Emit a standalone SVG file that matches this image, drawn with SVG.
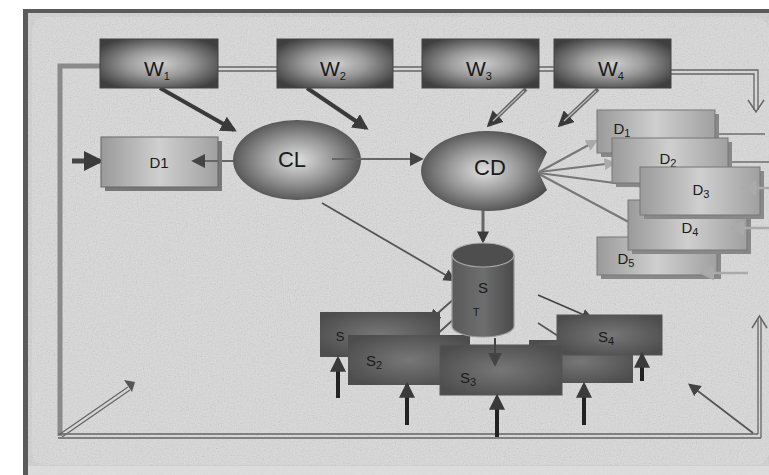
<svg xmlns="http://www.w3.org/2000/svg" width="769" height="475" viewBox="0 0 769 475">
<defs>
<style>
.t{font-family:"Liberation Sans",Arial,sans-serif;fill:#1a1a1a}
.wt{font-size:21px;text-anchor:middle}
.sub{font-size:11px}
.dt{font-size:15px;text-anchor:middle}
.st{font-size:15px;text-anchor:middle}
.thick{stroke:#3a3a3a;stroke-width:4;fill:none}
.dbl{stroke:#666;stroke-width:4;fill:none}
.dbli{stroke:#bbb;stroke-width:1.2;fill:none}
.gray{stroke:#8a8a8a;stroke-width:5;fill:none}
.fan{stroke:#777;stroke-width:2;fill:none}
</style>
<filter id="tex" x="0" y="0" width="100%" height="100%">
<feTurbulence type="fractalNoise" baseFrequency="0.85" numOctaves="3" seed="3"/>
<feColorMatrix type="saturate" values="0"/>
</filter>
<radialGradient id="gW" cx="50%" cy="50%" r="60%">
<stop offset="0" stop-color="#d0d0d0"/><stop offset="0.45" stop-color="#9a9a9a"/><stop offset="1" stop-color="#3f3f3f"/>
</radialGradient>
<radialGradient id="gE" cx="50%" cy="50%" r="55%">
<stop offset="0" stop-color="#e0e0e0"/><stop offset="0.5" stop-color="#999"/><stop offset="1" stop-color="#4a4a4a"/>
</radialGradient>
<linearGradient id="gD" x1="0" y1="0" x2="1" y2="0">
<stop offset="0" stop-color="#9a9a9a"/><stop offset="0.5" stop-color="#cfcfcf"/><stop offset="1" stop-color="#a0a0a0"/>
</linearGradient>
<radialGradient id="gS" cx="50%" cy="50%" r="60%">
<stop offset="0" stop-color="#777"/><stop offset="1" stop-color="#4d4d4d"/>
</radialGradient>
<linearGradient id="gC" x1="0" y1="0" x2="1" y2="0">
<stop offset="0" stop-color="#5a5a5a"/><stop offset="0.5" stop-color="#6e6e6e"/><stop offset="1" stop-color="#4a4a4a"/>
</linearGradient>
<marker id="ah" viewBox="0 0 10 10" refX="8" refY="5" markerWidth="4" markerHeight="4" orient="auto" markerUnits="strokeWidth">
<path d="M0,0 L10,5 L0,10 z" fill="#3a3a3a"/>
</marker>
<marker id="ahs" viewBox="0 0 10 10" refX="8" refY="5" markerWidth="7" markerHeight="7" orient="auto" markerUnits="strokeWidth">
<path d="M0,0 L10,5 L0,10 z" fill="#444"/>
</marker>
<marker id="ahl" viewBox="0 0 10 10" refX="8" refY="5" markerWidth="6" markerHeight="6" orient="auto" markerUnits="strokeWidth">
<path d="M0,0 L10,5 L0,10 z" fill="#aaa"/>
</marker>
</defs>

<!-- background / frame -->
<rect x="0" y="0" width="769" height="475" fill="#ffffff"/>
<rect x="23" y="9" width="746" height="466" fill="#5a5a5a"/>
<rect x="28" y="13" width="741" height="462" fill="#d2d2d2"/>
<rect x="32" y="17" width="737" height="448" rx="14" fill="#dadada"/>
<rect x="28" y="13" width="741" height="462" filter="url(#tex)" opacity="0.32"/>
<rect x="28" y="466" width="741" height="9" fill="#e4e4e4" opacity="0.6"/>

<!-- connectors -->
<g id="connectors">
<path class="gray" d="M100,66 H60 V436"/>
<path d="M218,67 H277 M218,71 H277 M393,67 H422 M393,71 H422 M539,67 H554 M539,71 H554" stroke="#666" stroke-width="1.3"/>
<path d="M671,70 H758 V110 M671,74 H754 V110" stroke="#666" stroke-width="1.3" fill="none"/>
<path d="M748,100 L756,112 L764,100" stroke="#666" stroke-width="1.5" fill="none"/>
<path d="M58,434 H758 M58,438 H761" stroke="#666" stroke-width="1.3" fill="none"/>
<path d="M758,434 V318 M761,438 V318" stroke="#666" stroke-width="1.3" fill="none"/>
<path d="M752,328 L759.5,316 L767,328" stroke="#666" stroke-width="1.5" fill="none"/>
<path d="M60,434 L128,387 M62,437 L130,390" stroke="#666" stroke-width="1.3" fill="none"/>
<path d="M124,380 L135,382 L132,392 z" fill="#555"/>
<line x1="753" y1="433" x2="690" y2="385" stroke="#555" stroke-width="1.8" marker-end="url(#ahs)"/>
<line class="thick" x1="160" y1="88" x2="234" y2="130" marker-end="url(#ah)"/>
<line class="thick" x1="307" y1="88" x2="366" y2="128" marker-end="url(#ah)"/>
<line class="dbl" x1="526" y1="89" x2="489" y2="125" marker-end="url(#ah)"/>
<line class="dbli" x1="524" y1="91" x2="493" y2="121"/>
<line class="dbl" x1="598" y1="89" x2="560" y2="125" marker-end="url(#ah)"/>
<line class="dbli" x1="596" y1="91" x2="564" y2="121"/>
<line x1="72" y1="161" x2="100" y2="161" stroke="#444" stroke-width="5" marker-end="url(#ah)"/>
<line x1="234" y1="161" x2="194" y2="161" stroke="#666" stroke-width="2" marker-end="url(#ahs)"/>
<line x1="332" y1="159" x2="421" y2="159" stroke="#666" stroke-width="2" marker-end="url(#ahs)"/>
<line x1="322" y1="203" x2="454" y2="280" stroke="#555" stroke-width="1.8" marker-end="url(#ahs)"/>
<line x1="483" y1="210" x2="483" y2="241" stroke="#666" stroke-width="3" marker-end="url(#ah)"/>
<line class="fan" x1="539" y1="172" x2="596" y2="141" marker-end="url(#ahl)"/>
<line class="fan" x1="539" y1="172" x2="614" y2="163" marker-end="url(#ahl)"/>
<line class="fan" x1="539" y1="173" x2="660" y2="189" marker-end="url(#ahl)"/>
<line class="fan" x1="539" y1="174" x2="638" y2="227" marker-end="url(#ahl)"/>
<line x1="765" y1="134" x2="716" y2="134" stroke="#888" stroke-width="2"/>
<line x1="769" y1="162" x2="728" y2="162" stroke="#888" stroke-width="2"/>
<line x1="455" y1="298" x2="430" y2="320" stroke="#555" stroke-width="1.8" marker-end="url(#ahs)"/>
<line x1="455" y1="318" x2="424" y2="346" stroke="#555" stroke-width="1.8" marker-end="url(#ahs)"/>
<line x1="538" y1="295" x2="591" y2="318" stroke="#444" stroke-width="1.6" marker-end="url(#ahs)"/>
<line x1="538" y1="323" x2="575" y2="347" stroke="#555" stroke-width="1.6" marker-end="url(#ahs)"/>
</g>

<!-- D boxes -->
<g id="node-D5"><rect x="601" y="241" width="120" height="38" fill="#888"/><rect x="597" y="237" width="120" height="38" fill="url(#gD)" stroke="#777"/><text class="t dt" x="626" y="264">D<tspan class="sub" dy="3">5</tspan></text></g>
<g id="node-D4"><rect x="632" y="204" width="119" height="50" fill="#888"/><rect x="628" y="200" width="119" height="50" fill="url(#gD)" stroke="#777"/><text class="t dt" x="690" y="233">D<tspan class="sub" dy="3">4</tspan></text></g>
<g id="node-D1"><rect x="601" y="114" width="118" height="43" fill="#888"/><rect x="597" y="110" width="118" height="43" fill="url(#gD)" stroke="#777"/><text class="t dt" x="622" y="134">D<tspan class="sub" dy="3">1</tspan></text></g>
<g id="node-D2"><rect x="616" y="142" width="116" height="45" fill="#888"/><rect x="612" y="138" width="116" height="45" fill="url(#gD)" stroke="#777"/><text class="t dt" x="668" y="164">D<tspan class="sub" dy="3">2</tspan></text></g>
<g id="node-D3"><rect x="644" y="171" width="120" height="48" fill="#888"/><rect x="640" y="167" width="120" height="48" fill="url(#gD)" stroke="#777"/><text class="t dt" x="701" y="195">D<tspan class="sub" dy="3">3</tspan></text></g>
<g id="D-right-arrows">
<line x1="769" y1="188" x2="744" y2="188" stroke="#aaa" stroke-width="2.5" marker-end="url(#ahl)"/>
<line x1="769" y1="228" x2="732" y2="228" stroke="#aaa" stroke-width="2.5" marker-end="url(#ahl)"/>
<line x1="748" y1="273" x2="702" y2="273" stroke="#aaa" stroke-width="2.5" marker-end="url(#ahl)"/>
</g>

<!-- W boxes -->
<g id="node-W1"><rect x="100" y="39" width="118" height="49" fill="url(#gW)" stroke="#444"/><text class="t wt" x="157" y="76">W<tspan class="sub" dy="4">1</tspan></text></g>
<g id="node-W2"><rect x="277" y="39" width="116" height="49" fill="url(#gW)" stroke="#444"/><text class="t wt" x="333" y="76">W<tspan class="sub" dy="4">2</tspan></text></g>
<g id="node-W3"><rect x="422" y="39" width="117" height="49" fill="url(#gW)" stroke="#444"/><text class="t wt" x="479" y="76">W<tspan class="sub" dy="4">3</tspan></text></g>
<g id="node-W4"><rect x="554" y="39" width="117" height="49" fill="url(#gW)" stroke="#444"/><text class="t wt" x="611" y="76">W<tspan class="sub" dy="4">4</tspan></text></g>

<!-- D1 (left) -->
<g id="node-D1left"><rect x="105" y="141" width="117" height="50" fill="#777"/><rect x="101" y="137" width="117" height="50" fill="url(#gD)" stroke="#666"/><line x1="218" y1="161" x2="194" y2="161" stroke="#666" stroke-width="2" marker-end="url(#ahs)"/><text class="t dt" x="159" y="168">D1</text></g>

<!-- CL -->
<g id="node-CL"><ellipse cx="297" cy="160" rx="64" ry="40" fill="url(#gE)"/><line x1="332" y1="159" x2="361" y2="159" stroke="#666" stroke-width="2"/><text class="t wt" x="292" y="167" style="font-size:22px">CL</text></g>

<!-- CD -->
<g id="node-CD"><path d="M538,171 L547,152 A67,40 0 1 0 547,190 Z" fill="url(#gE)"/><text class="t wt" x="490" y="175" style="font-size:22px">CD</text></g>

<!-- S boxes -->
<g id="node-S1"><rect x="320" y="312" width="120" height="45" fill="url(#gS)"/><text class="t st" x="340" y="341" style="font-size:13px">S</text></g>
<g id="node-S5"><rect x="529" y="340" width="104" height="43" fill="url(#gS)"/></g>
<g id="node-S2"><rect x="348" y="335" width="122" height="50" fill="url(#gS)"/><text class="t st" x="374" y="366">S<tspan class="sub" dy="3">2</tspan></text></g>
<g id="node-S4"><rect x="557" y="315" width="105" height="40" fill="url(#gS)" stroke="#555"/><text class="t st" x="606" y="342">S<tspan class="sub" dy="3">4</tspan></text></g>
<g id="node-S3"><rect x="440" y="345" width="122" height="50" fill="url(#gS)" stroke="#555"/><text class="t st" x="468" y="383">S<tspan class="sub" dy="3">3</tspan></text></g>

<!-- ST cylinder -->
<g id="node-ST">
<path d="M452,255 V326 A31,11 0 0 0 514,326 V255" fill="url(#gC)" stroke="#999" stroke-width="1.2"/>
<ellipse cx="483" cy="255" rx="31" ry="12" fill="#4e4e4e" stroke="#aaa" stroke-width="1.2"/>
<text class="t st" x="483" y="293">S</text>
<text class="t" x="476" y="316" style="font-size:11px;text-anchor:middle">T</text>
<line x1="495" y1="338" x2="495" y2="364" stroke="#444" stroke-width="2" marker-end="url(#ahs)"/>
</g>

<!-- up arrows -->
<g id="up-arrows">
<line x1="338" y1="398" x2="338" y2="359" stroke="#222" stroke-width="4" marker-end="url(#ah)"/>
<line x1="407" y1="425" x2="407" y2="385" stroke="#222" stroke-width="4" marker-end="url(#ah)"/>
<line x1="497" y1="437" x2="497" y2="397" stroke="#222" stroke-width="4" marker-end="url(#ah)"/>
<line x1="584" y1="425" x2="584" y2="385" stroke="#222" stroke-width="4" marker-end="url(#ah)"/>
<line x1="642" y1="381" x2="642" y2="355" stroke="#222" stroke-width="4" marker-end="url(#ah)"/>
</g>
</svg>
